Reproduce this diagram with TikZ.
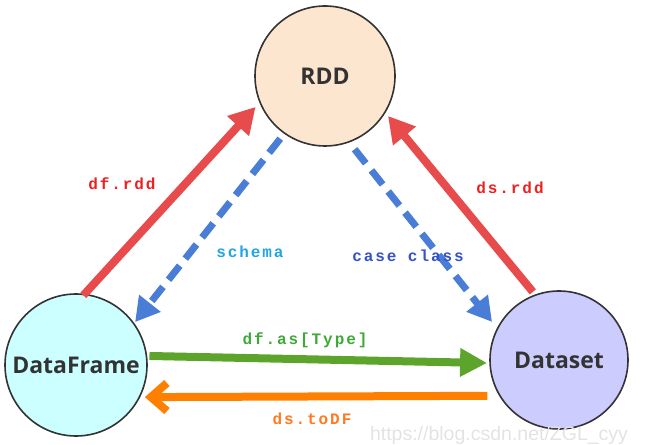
\documentclass[tikz,border=0pt]{standalone}
\usepackage{fontspec}
\setmainfont{Open Sans}
\newfontfamily\labfont[LetterSpace=12]{Liberation Mono}
\newfontfamily\wmfont{Liberation Sans}
\usetikzlibrary{arrows.meta,calc}
\definecolor{rddfill}{HTML}{FDE6D0}
\definecolor{dffill}{HTML}{CCFFFF}
\definecolor{dsfill}{HTML}{CCCCFF}
\definecolor{redarr}{HTML}{E84B4B}
\definecolor{bluearr}{HTML}{4A7ED6}
\definecolor{greenarr}{HTML}{5CA42C}
\definecolor{orangearr}{HTML}{FF8000}
\definecolor{redtxt}{HTML}{EE2020}
\definecolor{cyantxt}{HTML}{20A6E6}
\definecolor{bluetxt}{HTML}{3452CC}
\definecolor{greentxt}{HTML}{3DAA38}
\definecolor{orangetxt}{HTML}{FF7A20}
\definecolor{edgegray}{HTML}{333333}
\tikzset{
  ent/.style={circle, draw=edgegray, line width=1.6pt, inner sep=0pt,
    font=\fontsize{23}{26}\selectfont\bfseries, text=edgegray},
  redarrow/.style={draw=redarr, fill=redarr, line width=8pt,
    -{Triangle[length=26pt,width=28pt]}},
  bluearrow/.style={draw=bluearr, line width=7pt, dash pattern=on 18pt off 9pt,
    -{Triangle[length=24pt,width=26pt,fill=bluearr]}},
  greenarrow/.style={draw=greenarr, line width=8pt,
    -{Triangle[length=27pt,width=27pt,fill=greenarr]}},
  orangearrow/.style={draw=orangearr, line width=8pt,
    -{Straight Barb[length=16pt,width=28pt]}},
  lab/.style={font=\fontsize{16}{18}\selectfont\labfont\bfseries, inner sep=0pt}
}
\begin{document}
\begin{tikzpicture}[x=1pt,y=1pt]
\useasboundingbox (0,0) rectangle (647,444);
\node[ent, fill=rddfill, minimum size=140pt] (rdd) at (325,368) {RDD};
\node[ent, fill=dffill, minimum size=142pt] (df) at (76,79) {DataFrame};
\node[ent, fill=dsfill, minimum size=138pt] (ds) at (559,84) {Dataset};

\draw[redarrow] ($(df.center)+(84:70)$) -- ($(rdd.center)+(204:76)$);
\draw[bluearrow] ($(rdd.center)+(234.5:77)$) -- ($(df.center)+(36:73)$);
\draw[bluearrow] ($(rdd.center)+(292:79)$) -- ($(ds.center)+(150.4:77)$);
\draw[redarrow] ($(ds.center)+(111:73)$) -- ($(rdd.center)+(327.6:74.6)$);
\draw[greenarrow] ($(df.center)+(7:74)$) -- ($(ds.center)+(182.4:72)$);
\draw[orangearrow] ($(ds.center)+(206.6:80)$) -- ($(df.center)+(335:76)$);

\node[lab, text=redtxt] (l1) at (122,260) {df.rdd};
\node[lab, text=cyantxt] (l2) at (250,192) {schema};
\node[lab, text=bluetxt] (l3) at (408,188) {case class};
\node[lab, text=redtxt] (l4) at (510,256) {ds.rdd};
\node[lab, text=greentxt] (l5) at (305,104) {df.as[Type]};
\node[lab, text=orangetxt] (l6) at (312,25) {ds.toDF};
\node[font=\fontsize{19.5}{22}\selectfont\wmfont, text=black!11, inner sep=0pt] (wm) at (499,9) {https://blog.csdn.net/ZGL\_cyy};
\end{tikzpicture}
\end{document}
